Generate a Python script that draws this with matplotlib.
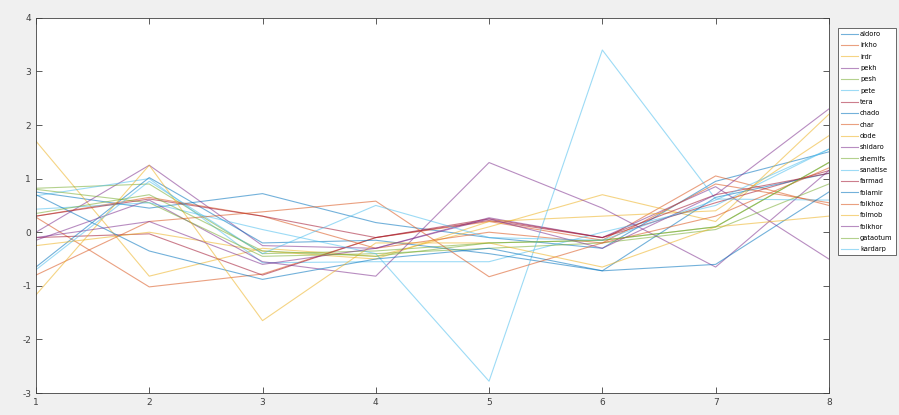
import matplotlib
matplotlib.use('Agg')
import matplotlib.pyplot as plt

plt.rcParams['axes.unicode_minus'] = False

x = [1, 2, 3, 4, 5, 6, 7, 8]

names = ['aldoro', 'irkho', 'irdr', 'pekh', 'pesh', 'pete', 'tera', 'chado', 'char', 'dode',
         'shidaro', 'shemifs', 'sanatise', 'farmad', 'folamir', 'folkhoz', 'folmob', 'folkhor',
         'gataotum', 'kardarp']

aldoro   = [0.75, 0.45, 0.72, 0.18, -0.1, -0.3, 0.95, 1.5]
irkho    = [0.28, -1.02, -0.78, -0.1, 0.2, -0.15, 1.05, 0.5]
irdr     = [1.7, -0.82, -0.3, -0.45, 0.1, 0.7, 0.2, 2.2]
pekh     = [0.0, 1.25, -0.25, -0.3, 0.27, -0.1, 0.85, -0.5]
pesh     = [0.82, 0.9, -0.4, -0.35, -0.2, -0.15, 0.1, 1.3]
pete     = [0.68, 1.0, -0.57, -0.55, -0.55, 0.0, 0.5, 1.55]
tera     = [-0.1, -0.03, -0.8, -0.1, 0.25, -0.1, 0.55, 1.15]
chado    = [-0.65, 1.02, -0.2, -0.15, -0.4, -0.72, 0.65, 1.1]
char     = [0.3, 0.65, 0.3, -0.3, 0.0, -0.2, 0.9, 0.55]
dode     = [-0.25, 0.0, -0.35, -0.5, 0.2, 0.3, 0.4, 1.8]
shidaro  = [-0.15, 0.6, -0.55, -0.82, 1.3, 0.45, -0.65, 1.15]
shemifs  = [0.8, 0.55, -0.45, -0.4, -0.3, -0.2, 0.05, 0.9]
sanatise = [0.43, 0.55, 0.05, -0.4, -2.78, 3.4, 0.62, 0.6]
farmad   = [0.3, 0.62, 0.3, -0.1, 0.22, -0.1, 0.7, 1.1]
folamir  = [0.7, -0.35, -0.88, -0.5, -0.3, -0.72, -0.6, 0.75]
folkhoz  = [-0.8, 0.2, 0.38, 0.58, -0.83, -0.2, 0.3, 1.2]
folmob   = [-1.17, 1.25, -1.65, -0.2, -0.2, -0.65, 0.1, 0.3]
folkhor  = [-0.1, 0.2, -0.6, -0.3, 0.25, -0.3, 0.7, 2.3]
gataotum = [0.35, 0.7, -0.35, -0.45, -0.2, -0.15, 0.1, 1.3]
kardarp  = [-0.7, 0.95, -0.4, 0.5, -0.1, -0.15, 0.6, 1.55]

series = [aldoro, irkho, irdr, pekh, pesh, pete, tera, chado, char, dode,
          shidaro, shemifs, sanatise, farmad, folamir, folkhoz, folmob, folkhor,
          gataotum, kardarp]

# culori implicite matlab
culori = [(0, 0.447, 0.741), (0.85, 0.325, 0.098), (0.929, 0.694, 0.125),
          (0.494, 0.184, 0.556), (0.466, 0.674, 0.188), (0.301, 0.745, 0.933),
          (0.635, 0.078, 0.184)]

fig = plt.figure(figsize=(8.99, 4.15), dpi=100, facecolor=(0.94, 0.94, 0.94))
ax = fig.add_axes([0.040, 0.053, 0.882, 0.904])

for i in range(len(series)):
    ax.plot(x, series[i], color=culori[i % 7], linewidth=0.8, alpha=0.55, label=names[i])

ax.set_xlim(1, 8)
ax.set_ylim(-3, 4)
ax.set_xticks(x)
ax.set_yticks([-3, -2, -1, 0, 1, 2, 3, 4])
ax.tick_params(direction='in', top=True, right=True, labelsize=6.5, colors='#404040',
               length=4, width=0.6)
for s in ax.spines.values():
    s.set_color('#404040')
    s.set_linewidth(0.6)

leg = fig.legend(loc='upper left', bbox_to_anchor=(838 / 899, 1 - 28 / 415), fontsize=4.8,
                 labelspacing=0.8, handlelength=2.5, handletextpad=0.35, borderpad=0.45,
                 borderaxespad=0.0, fancybox=False, framealpha=1, edgecolor='#505050')
leg.get_frame().set_linewidth(0.6)

fig.savefig('out.png', dpi=100, facecolor=fig.get_facecolor())
